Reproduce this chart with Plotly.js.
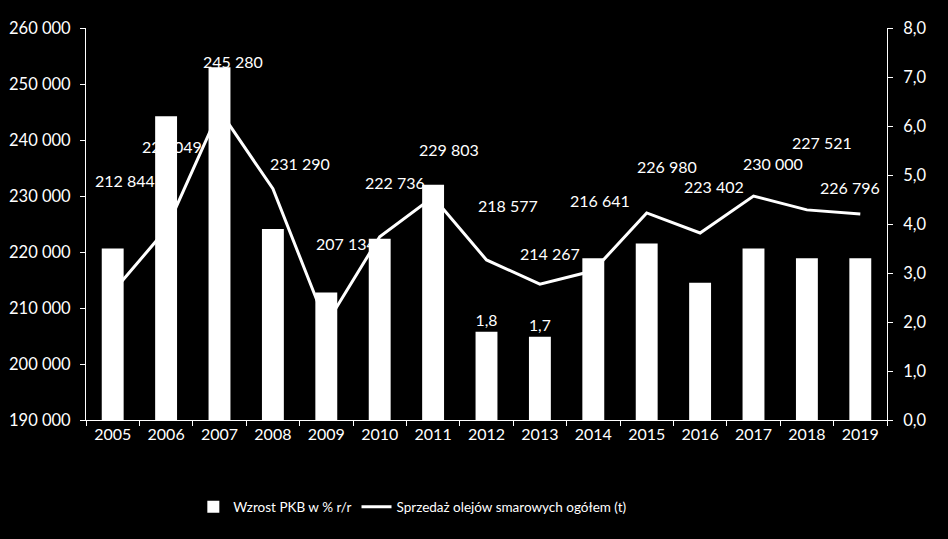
<!DOCTYPE html>
<html>
<head>
<meta charset="utf-8">
<script src="https://cdn.plot.ly/plotly-3.0.1.min.js"></script>
<style>
html,body{margin:0;padding:0;background:#000;}
#chart{width:948px;height:539px;}
</style>
</head>
<body>
<div id="chart"></div>
<script>
// ---- data ----
const years = ["2005","2006","2007","2008","2009","2010","2011","2012","2013","2014","2015","2016","2017","2018","2019"];
const gdpGrowth = [3.5, 6.2, 7.2, 3.9, 2.6, 3.7, 4.8, 1.8, 1.7, 3.3, 3.6, 2.8, 3.5, 3.3, 3.3];
const oilSales = [212844, 224049, 245280, 231290, 207134, 222736, 229803, 218577, 214267, 216641, 226980, 223402, 230000, 227521, 226796];
const seriesNames = ["Wzrost PKB w % r/r", "Sprzedaż olejów smarowych ogółem (t)"];

// label offsets (pixels) for line value labels, as placed in the original
const labelDX = [12, 6, 13, 27, 20, 15, 16, 21, 10, 7, 20, 14, 19, 15, -10];
const labelDY = [112, 83, 49, 25, 81, 54, 48, 54, 31, 70, 46, 46, 33, 67, 26];

function fmtThousands(v){
  return String(v).replace(/\B(?=(\d{3})+(?!\d))/g, " ");
}

const FONT = "Lato, 'Open Sans', sans-serif";

const barTrace = {
  type: "bar",
  name: seriesNames[0],
  x: years,
  y: gdpGrowth,
  yaxis: "y2",
  marker: {color: "#ffffff", line: {width: 0}},
  texttemplate: "%{y:.1f}",
  textposition: gdpGrowth.map(v => v < 2 ? "outside" : "inside"),
  insidetextanchor: "middle",
  textfont: {color: "#ffffff", size: 16, family: FONT},
  cliponaxis: false,
  hoverinfo: "x+y"
};

const lineTrace = {
  type: "scatter",
  mode: "lines",
  name: seriesNames[1],
  x: years,
  y: oilSales,
  yaxis: "y",
  line: {color: "#ffffff", width: 3}
};

// category index used for annotation placement on the category axis
const annotations = years.map((yr, i) => ({
  x: i, y: oilSales[i], xref: "x", yref: "y",
  text: fmtThousands(oilSales[i]),
  showarrow: false,
  xshift: labelDX[i], yshift: labelDY[i],
  font: {color: "#ffffff", size: 16, family: FONT}
}));

const axisCommon = {
  showgrid: false, zeroline: false,
  showline: true, linecolor: "#ffffff", linewidth: 1,
  ticks: "outside", ticklen: 5, tickcolor: "#ffffff", tickwidth: 1,
  tickfont: {color: "#ffffff", size: 16, family: FONT}
};

const layout = {
  width: 948, height: 539,
  paper_bgcolor: "#000000", plot_bgcolor: "#000000",
  margin: {l: 86, r: 61, t: 28, b: 119},
  separators: ", ",
  font: {family: FONT, color: "#ffffff"},
  bargap: 0.59,
  showlegend: true,
  legend: {
    orientation: "h", x: 0.134, xanchor: "left", y: -0.222, yanchor: "middle",
    font: {color: "#ffffff", size: 13.5, family: FONT},
    bgcolor: "rgba(0,0,0,0)", itemwidth: 30, traceorder: "normal"
  },
  xaxis: Object.assign({}, axisCommon, {
    type: "category", tickson: "boundaries", range: [-0.5, years.length - 0.5],
    tickangle: 0
  }),
  yaxis: Object.assign({}, axisCommon, {
    range: [190000, 260000], dtick: 10000, tickformat: ",d", side: "left",
    ticklabelstandoff: 6, tickfont: {color: "#ffffff", size: 16.5, family: FONT}
  }),
  yaxis2: Object.assign({}, axisCommon, {
    range: [0, 8], dtick: 1, tickformat: ".1f", side: "right", overlaying: "y",
    ticklabelstandoff: 7, tickfont: {color: "#ffffff", size: 16.5, family: FONT}
  }),
  annotations: annotations
};

Plotly.newPlot("chart", [barTrace, lineTrace], layout, {staticPlot: true, displayModeBar: false});
</script>
</body>
</html>
